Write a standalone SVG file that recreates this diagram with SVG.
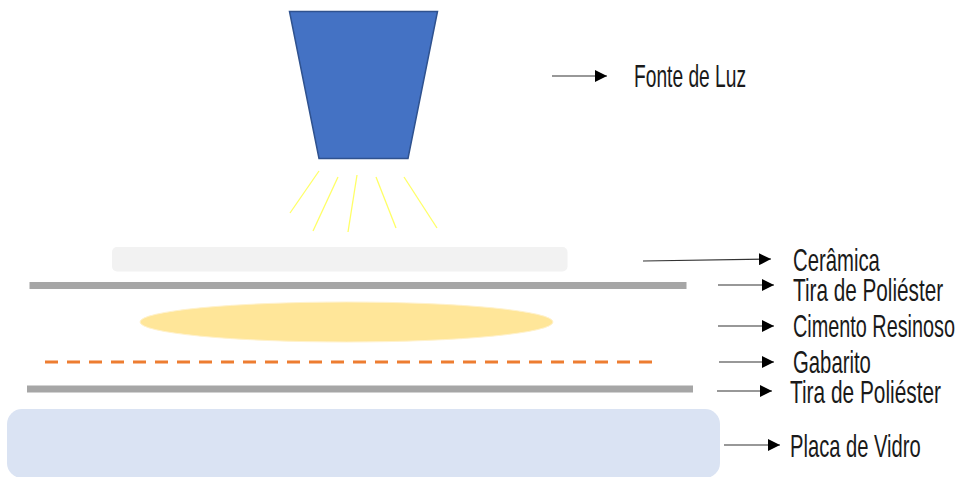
<svg xmlns="http://www.w3.org/2000/svg" width="958" height="477" viewBox="0 0 958 477">
<style>
.lbl{font-family:"Liberation Sans",Arial,sans-serif;font-size:32px;fill:#1a1a1a}
.ray{stroke:#ffff66;stroke-width:1.3;fill:none}
.con{stroke:#333;stroke-width:1.1;fill:none;marker-end:url(#a)}
.strip{fill:#a6a6a6}
</style>
<defs>
<marker id="a" markerUnits="userSpaceOnUse" markerWidth="13" markerHeight="12" refX="12" refY="6" orient="auto"><path d="M0 0L12 6L0 12Z" fill="#000"/></marker>
</defs>
<rect width="958" height="477" fill="#fff"/>
<g id="fonte-luz">
<path d="M289.5 11.5H437.5L408 158.5H319Z" fill="#4472c4" stroke="#2f528f" stroke-width="1.5"/>
</g>
<g id="raios">
<path class="ray" d="M319 171L290 213"/><path class="ray" d="M338 177L313 231"/><path class="ray" d="M357 175L348 232"/><path class="ray" d="M376 177L396 228"/><path class="ray" d="M404 177L437 228"/>
</g>
<g id="ceramica"><rect x="112" y="247" width="455.5" height="24.5" rx="5" fill="#f2f2f2"/></g>
<g id="tira-1"><rect class="strip" x="29.5" y="282" width="657" height="7"/></g>
<g id="cimento"><ellipse cx="346.5" cy="322" rx="206.5" ry="20" fill="#ffe699" stroke="#fff2cc" stroke-width="1"/></g>
<g id="gabarito"><path d="M45 362H653" stroke="#ed7d31" stroke-width="3" stroke-dasharray="13 9" fill="none"/></g>
<g id="tira-2"><rect class="strip" x="27" y="385.5" width="666" height="7"/></g>
<g id="vidro"><rect x="7" y="409" width="713" height="69" rx="15" fill="#dae3f3"/></g>
<g id="conectores">
<path class="con" d="M552 76H607"/>
<path class="con" d="M643 261L771 259"/>
<path class="con" d="M718 285H774"/>
<path class="con" d="M718 326H774"/>
<path class="con" d="M719 362H774"/>
<path class="con" d="M717 391H772"/>
<path class="con" d="M724 445H780"/>
</g>
<g id="rotulos">
<text class="lbl" transform="translate(634 87) scale(.6 1)">Fonte de Luz</text>
<text class="lbl" transform="translate(793 271) scale(.635 1)">Cerâmica</text>
<text class="lbl" transform="translate(793 301) scale(.648 1)">Tira de Poliéster</text>
<text class="lbl" transform="translate(793 337) scale(.62 1)">Cimento Resinoso</text>
<text class="lbl" transform="translate(793 373) scale(.635 1)">Gabarito</text>
<text class="lbl" transform="translate(790 403) scale(.652 1)">Tira de Poliéster</text>
<text class="lbl" transform="translate(790 457) scale(.63 1)">Placa de Vidro</text>
</g>
</svg>
